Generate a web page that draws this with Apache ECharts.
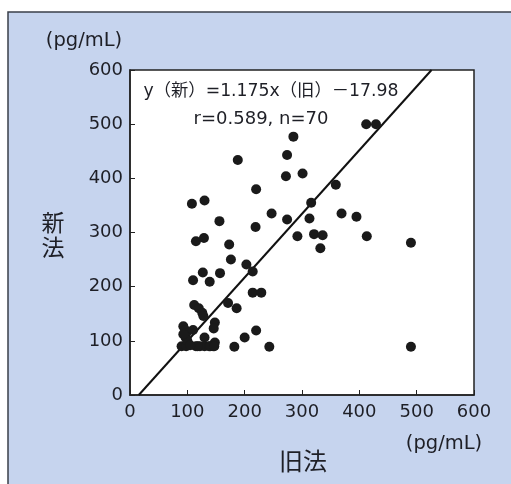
<!DOCTYPE html>
<html>
<head>
<meta charset="utf-8">
<script src="https://cdn.jsdelivr.net/npm/echarts@6/dist/echarts.min.js"></script>
<style>
html,body{margin:0;padding:0;background:#ffffff;}
#chart{width:511px;height:484px;}
</style>
</head>
<body>
<div id="chart"></div>
<script>
// Old method (旧法) values
const oldValues = [412,429,285,188,274,272,301,220,359,108,130,316,247,369,395,156,274,313,219,115,129,292,321,336,413,490,332,173,176,203,127,157,214,110,139,214,229,112,171,186,120,126,128,148,146,220,200,130,243,182,490,93,96,98,110,97,90,98,115,122,130,138,145,148,100,93,118,105,140,147];
// New method (新法) values
const newValues = [500,500,477,434,443,404,409,380,388,353,359,355,335,335,329,321,324,326,310,284,290,293,297,295,293,281,271,278,250,241,226,225,228,212,209,189,189,166,170,160,160,152,146,134,123,119,106,106,89,89,89,127,120,114,120,106,90,90,90,90,90,90,90,97,100,112,90,92,90,90];
const xTicks = [0,100,200,300,400,500,600];
const yTicks = [0,100,200,300,400,500,600];
const regSlope = [1.175];
const regIntercept = [-17.98];

const points = oldValues.map((v,i)=>[v,newValues[i]]);
const s = regSlope[0], b = regIntercept[0];
const x0 = -b/s, x1 = (600 - b)/s;
const regLine = [[x0, s*x0+b],[x1, s*x1+b]];

const font = '"DejaVu Sans", "Noto Sans CJK JP", sans-serif';
const cjk = '"Noto Sans CJK JP", sans-serif';
const txt = '#1e1f26';
const chart = echarts.init(document.getElementById('chart'), null, {renderer:'canvas'});
chart.setOption({
  animation:false,
  backgroundColor:'#ffffff',
  graphic:[
    {type:'rect', z:-10, shape:{x:8,y:12,width:520,height:490}, style:{fill:'#c6d4ee', stroke:'#3a3f4a', lineWidth:1.5}},
    {type:'text', x:84, y:41, style:{text:'(pg/mL)', font:'19.5px '+font, fill:txt, align:'center', verticalAlign:'middle'}},
    {type:'text', x:53, y:235, style:{text:'新\n法', font:'23px '+cjk, fill:txt, lineHeight:25, align:'center', verticalAlign:'middle'}},
    {type:'text', x:444, y:444, style:{text:'(pg/mL)', font:'19.5px '+font, fill:txt, align:'center', verticalAlign:'middle'}},
    {type:'text', x:303, y:461, style:{text:'旧法', font:'24px '+cjk, fill:txt, align:'center', verticalAlign:'middle'}},
    {type:'text', x:271, y:92, z:20, style:{text:'y（新）=1.175x（旧）－17.98', font:'17.3px '+font, fill:txt, align:'center', verticalAlign:'middle'}},
    {type:'text', x:261, y:119, z:20, style:{text:'r=0.589, n=70', font:'18px '+font, fill:txt, align:'center', verticalAlign:'middle'}}
  ],
  grid:{left:130, top:70, width:344, height:325, show:true, backgroundColor:'#ffffff', borderColor:'#222', borderWidth:1.5},
  xAxis:{type:'value', min:0, max:600, interval:100,
    axisLine:{show:true, onZero:false, lineStyle:{color:'#222', width:1.5}},
    axisTick:{show:true, inside:true, length:5, lineStyle:{color:'#222'}},
    splitLine:{show:false},
    axisLabel:{color:txt, fontSize:18, fontFamily:font, margin:8, formatter:v=>xTicks.includes(v)?String(v):''}},
  yAxis:{type:'value', min:0, max:600, interval:100,
    axisLine:{show:true, onZero:false, lineStyle:{color:'#222', width:1.5}},
    axisTick:{show:true, inside:true, length:5, lineStyle:{color:'#222'}},
    splitLine:{show:false},
    axisLabel:{color:txt, fontSize:18, fontFamily:font, margin:7, formatter:v=>yTicks.includes(v)?String(v):''}},
  series:[
    {type:'scatter', data:points, symbolSize:10, itemStyle:{color:'#1a1a1a', opacity:1}, z:3},
    {type:'line', data:regLine, showSymbol:false, symbol:'none', lineStyle:{color:'#111', width:2}, z:2}
  ]
});
</script>
</body>
</html>
